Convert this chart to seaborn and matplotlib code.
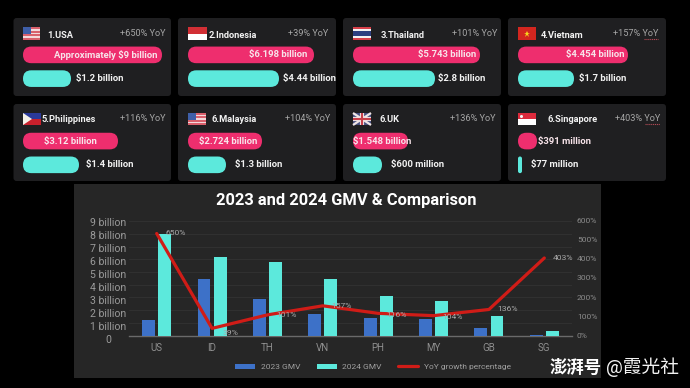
import numpy as np
import pandas as pd
import matplotlib
matplotlib.use("Agg")
import matplotlib.pyplot as plt
from matplotlib.patches import FancyBboxPatch, Rectangle, Polygon
from matplotlib.transforms import ScaledTranslation
import seaborn as sns

# ---------- data ----------
card_names = ["1.USA", "2.Indonesia", "3.Thailand", "4.Vietnam",
              "5.Philippines", "6.Malaysia", "6.UK", "6.Singapore"]
card_yoy = ["+650% YoY", "+39% YoY", "+101% YoY", "+157% YoY",
            "+116% YoY", "+104% YoY", "+136% YoY", "+403% YoY"]
card_2024_text = ["Approximately $9 billion", "$6.198 billion", "$5.743 billion", "$4.454 billion",
                  "$3.12 billion", "$2.724 billion", "$1.548 billion", "$391 million"]
card_2023_text = ["$1.2 billion", "$4.44 billion", "$2.8 billion", "$1.7 billion",
                  "$1.4 billion", "$1.3 billion", "$600 million", "$77 million"]
# drawn bar lengths on the cards
card_2024_len = [139, 126, 127, 110, 95, 74, 55, 19]
card_2023_len = [48, 91, 82, 56, 56, 38, 29, 4]

countries = ["US", "ID", "TH", "VN", "PH", "MY", "GB", "SG"]
gmv_2023 = [1.25, 4.47, 2.85, 1.7, 1.4, 1.33, 0.6, 0.077]
gmv_2024 = [8.0, 6.2, 5.75, 4.47, 3.12, 2.72, 1.55, 0.39]
yoy_drawn = [530, 38, 108, 155, 116, 104, 136, 403]
yoy_labels = ["650%", "39%", "101%", "157%", "116%", "104%", "136%", "403%"]
left_ticks = ["0", "1 billion", "2 billion", "3 billion", "4 billion", "5 billion",
              "6 billion", "7 billion", "8 billion", "9 billion"]
right_ticks = ["0%", "100%", "200%", "300%", "400%", "500%", "600%"]
chart_title = "2023 and 2024 GMV & Comparison"

# ---------- style ----------
W, H = 690, 388
BG, CARD, PANEL = "#000000", "#1f1f21", "#262626"
PINK, TEAL, BLUE, RED = "#ee2e6e", "#5ce9dc", "#3d71c8", "#d01c17"
sns.set_theme(style="dark")
plt.rcParams["font.family"] = ["Roboto", "Noto Sans CJK SC", "DejaVu Sans"]
fig = plt.figure(figsize=(W / 100, H / 100), dpi=100, facecolor=BG)


def px_axes(x0, y0, x1, y1, **kw):
    return fig.add_axes([x0 / W, 1 - y1 / H, (x1 - x0) / W, (y1 - y0) / H], **kw)


# ---------- background: cards, panel, flags ----------
bg = px_axes(0, 0, W, H, zorder=0)
bg.set_xlim(0, W)
bg.set_ylim(H, 0)
bg.axis("off")

card_x = [(13.5, 171), (178, 336), (343, 501), (508, 666)]
card_y = [(18, 96), (104, 181)]
for (y0, y1) in card_y:
    for (x0, x1) in card_x:
        bg.add_patch(FancyBboxPatch((x0, y0), x1 - x0, y1 - y0,
                                    boxstyle="round,pad=0,rounding_size=3", fc=CARD, ec="none"))
bg.add_patch(Rectangle((74, 184), 527, 194, fc=PANEL, ec="none"))


def stripes(x, y, w, h, cols):
    n = len(cols)
    for i, c in enumerate(cols):
        bg.add_patch(Rectangle((x, y + i * h / n), w, h / n + 0.1, fc=c, ec="none"))


def flag(i, x, y, w, h):
    if i in (0, 5):
        stripes(x, y, w, h, ["#d9606c", "#f3d9db", "#d9606c", "#f3d9db", "#d9606c", "#f3d9db", "#d9606c"])
        bg.add_patch(Rectangle((x, y), w * 0.45, h * 0.55, fc="#3f5fa8", ec="none"))
    elif i == 1:
        stripes(x, y, w, h, ["#d22f35", "#ffffff"])
    elif i == 2:
        stripes(x, y, w, h, ["#d8404a", "#f2f2f2", "#2c3f80", "#2c3f80", "#f2f2f2", "#d8404a"])
    elif i == 3:
        bg.add_patch(Rectangle((x, y), w, h, fc="#d3261f", ec="none"))
        bg.plot([x + w / 2], [y + h / 2], marker="*", ms=5, color="#f7d51d", mew=0)
    elif i == 4:
        stripes(x, y, w, h, ["#2a3a9a", "#c8202c"])
        bg.add_patch(Polygon([(x, y), (x + w * 0.5, y + h / 2), (x, y + h)], fc="#f4f1e8", ec="none"))
    elif i == 6:
        bg.add_patch(Rectangle((x, y), w, h, fc="#48507f", ec="none"))
        bg.plot([x, x + w], [y, y + h], color="#f0e6e6", lw=1.6, solid_capstyle="butt")
        bg.plot([x, x + w], [y + h, y], color="#f0e6e6", lw=1.6, solid_capstyle="butt")
        bg.plot([x, x + w], [y + h / 2] * 2, color="#f0e6e6", lw=3, solid_capstyle="butt")
        bg.plot([x + w / 2] * 2, [y, y + h], color="#f0e6e6", lw=3, solid_capstyle="butt")
        bg.plot([x, x + w], [y + h / 2] * 2, color="#c8404a", lw=1.5, solid_capstyle="butt")
        bg.plot([x + w / 2] * 2, [y, y + h], color="#c8404a", lw=1.5, solid_capstyle="butt")
    else:
        stripes(x, y, w, h, ["#dd2a3c", "#ffffff"])
        bg.plot([x + 3], [y + 3], marker="o", ms=2.2, color="#f5f5f5", mew=0)


# ---------- cards ----------
start_x = [23, 188, 353, 518]
flag_x = [(23, 17), (188, 19), (353, 18), (518, 18), (23, 18), (188, 18), (353, 18), (518, 18)]
name_x = [47, 209, 381, 541, 42, 212, 379, 547]
yoy_right = [166, 328, 497, 658, 166, 330, 495, 660]
lab24 = [(157, "right"), (307, "right"), (476, "right"), (624, "right"),
         (70, "center"), (228, "center"), (382, "center"), (538, "left")]
lab23_x = [76, 283, 438, 579, 86, 235, 391, 531]
row_bar = [(43, 90.5), (129.2, 176.7)]
row_text = [(33.5, 35.5), (118.7, 119.5)]
flag_y = [(27, 13), (113, 12)]

for i in range(8):
    row, col = divmod(i, 4)
    x0 = start_x[col]
    flag(i, flag_x[i][0], flag_y[row][0], flag_x[i][1], flag_y[row][1])
    bg.text(name_x[i], row_text[row][1], card_names[i], color="#f2f2f2", fontsize=6.7,
            fontweight="bold", va="center", ha="left")
    bg.text(yoy_right[i], row_text[row][0], card_yoy[i], color="#a6a6a6", fontsize=6.6,
            va="center", ha="right")

    y0, y1 = row_bar[row]
    ax = px_axes(x0, y0, x0 + 160, y1, zorder=2)
    ax.patch.set_alpha(0)
    df = pd.DataFrame({"len": [card_2024_len[i], card_2023_len[i]], "year": ["2024", "2023"]})
    sns.barplot(data=df, x="len", y="year", hue="year", order=["2024", "2023"],
                palette={"2024": PINK, "2023": TEAL}, width=0.7, legend=False, ax=ax,
                saturation=1)
    ax.set_xlim(0, 160)
    ax.set_ylim(1.5, -0.5)
    ax.axis("off")
    for p in list(ax.patches):
        bx, by, bw, bh = p.get_x(), p.get_y(), p.get_width(), p.get_height()
        col_f = p.get_facecolor()
        p.remove()
        ax.add_patch(FancyBboxPatch((bx, by), bw, bh,
                                    boxstyle=f"round,pad=0,rounding_size={min(bw / 2, 8.3)}",
                                    mutation_aspect=1 / 23.75, fc=col_f, ec="none"))
    lx, lha = lab24[i]
    ax.text(lx - x0, 0, card_2024_text[i], color="#f8e4ea", fontsize=6.8, fontweight="bold",
            ha=lha, va="center", clip_on=False, zorder=5)
    ax.text(lab23_x[i] - x0, 1, card_2023_text[i], color="#f2f2f2", fontsize=6.8, fontweight="bold",
            ha="left", va="center", clip_on=False, zorder=5)

# spell-check squiggles under two YoY labels
bg.plot([644, 658], [38.5, 38.5], color="#b04a55", lw=0.8, ls=(0, (1, 0.7)))
bg.plot([645, 660], [124, 124], color="#b04a55", lw=0.8, ls=(0, (1, 0.7)))

# ---------- main chart ----------
ax = px_axes(129, 220, 572, 335.7, zorder=3)
ax.patch.set_alpha(0)
long = pd.DataFrame({
    "country": countries * 2,
    "gmv": gmv_2023 + gmv_2024,
    "series": ["2023 GMV"] * 8 + ["2024 GMV"] * 8,
})
sns.barplot(data=long, x="country", y="gmv", hue="series", palette=[BLUE, TEAL], width=0.58,
            gap=0.2, saturation=1, linewidth=0, edgecolor="none", ax=ax, zorder=3)
ax.set_xlim(-0.5, 7.5)
ax.set_ylim(0, 9.08)
ax.set_xlabel("")
ax.set_ylabel("")
ax.set_yticks(range(10))
ax.set_yticklabels(left_ticks, ha="center")
ax.grid(axis="y", color="#313131", lw=0.7, zorder=0)
ax.grid(axis="x", visible=False)
for s in ["top", "left", "right"]:
    ax.spines[s].set_visible(False)
ax.spines["bottom"].set_color("#6a6a6a")
ax.spines["bottom"].set_linewidth(1.0)
ax.tick_params(axis="y", length=0, pad=15, labelsize=7.6, labelcolor="#9a9a9a")
ax.tick_params(axis="x", length=0, pad=5, labelsize=7, labelcolor="#8f8f8f")
for v, lab in enumerate(ax.get_yticklabels()):
    off = ScaledTranslation(0, -(0.7 + (9 - v) * 0.29) / 100, fig.dpi_scale_trans)
    lab.set_transform(lab.get_transform() + off)

ax2 = ax.twinx()
ax2.patch.set_alpha(0)
sns.lineplot(x=np.arange(len(countries)), y=yoy_drawn, color=RED, lw=2.3, ax=ax2,
             label="YoY growth percentage", legend=False, zorder=4)
ax2.set_ylim(0, 600)
ax2.set_yticks(range(0, 700, 100))
ax2.set_yticklabels(right_ticks)
ax2.tick_params(axis="y", length=0, pad=3.5, labelsize=6.1, labelcolor="#8a8a8a")
ax2.grid(False)
for s in ax2.spines.values():
    s.set_visible(False)
for i, (v, t) in enumerate(zip(yoy_drawn, yoy_labels)):
    dy = -3 if i == 1 else (-1 if i in (4, 5) else 0)
    ax2.annotate(t, (i, v), xytext=(13.5, dy), textcoords="offset points", color="#a8a8a8",
                 fontsize=6.1, ha="center", va="center", zorder=5)

handles, labels = ax.get_legend_handles_labels()
h2, l2 = ax2.get_legend_handles_labels()
ax.get_legend().remove()
fig.legend(handles + h2, labels + l2, loc="center", bbox_to_anchor=(373 / W, 1 - 367 / H), ncol=3,
           frameon=False, fontsize=6, labelcolor="#a0a0a0", handlelength=2.4, handleheight=0.6,
           handletextpad=0.7, columnspacing=1.9)

fig.text(346 / W, 1 - 200.5 / H, chart_title, color="#ffffff", fontsize=11.9, fontweight="bold",
         ha="center", va="center")

# watermark
fig.text(576 / W, 1 - 367 / H, "澎湃号", color="#ffffff", fontsize=12.5, fontweight="bold",
         ha="center", va="center", zorder=10)
fig.text(606 / W, 1 - 367 / H, "@霞光社", color="#f2f2f2", fontsize=13.5, ha="left", va="center", zorder=10)

fig.savefig("out.png", dpi=100, facecolor=BG)
